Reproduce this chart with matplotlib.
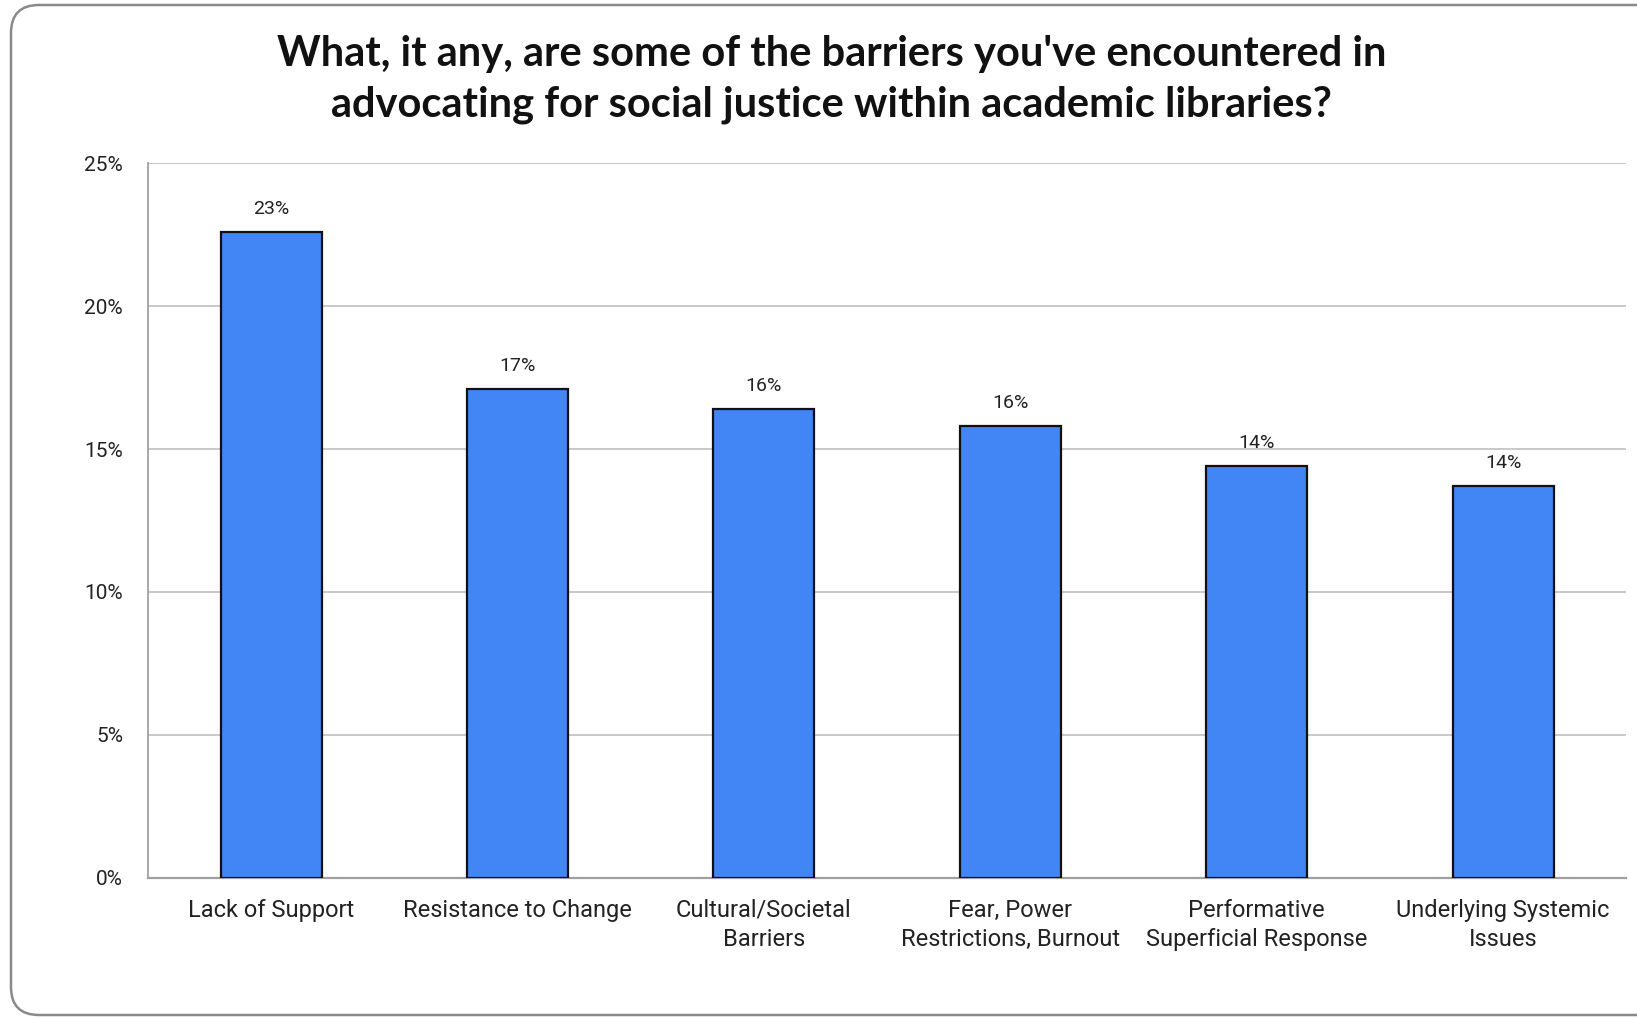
import matplotlib
matplotlib.use("Agg")
import matplotlib.pyplot as plt
from matplotlib.patches import FancyBboxPatch

# --- chart data ---
categories = [
    "Lack of Support",
    "Resistance to Change",
    "Cultural/Societal\nBarriers",
    "Fear, Power\nRestrictions, Burnout",
    "Performative\nSuperficial Response",
    "Underlying Systemic\nIssues",
]
shares = [22.6, 17.1, 16.4, 15.8, 14.4, 13.7]
share_labels = ["23%", "17%", "16%", "16%", "14%", "14%"]
yticks = [0, 5, 10, 15, 20, 25]
ytick_labels = ["0%", "5%", "10%", "15%", "20%", "25%"]

title = ("What, it any, are some of the barriers you've encountered in\n"
         "advocating for social justice within academic libraries?")

fig = plt.figure(figsize=(16.37, 10.19), dpi=100)
ax = fig.add_axes([0.0904, 0.1384, 0.903, 0.7016])

x = list(range(len(categories)))
bars = ax.bar(x, shares, width=0.41, color="#4285f4",
              edgecolor="#111111", linewidth=1.6, zorder=3)

for b, lab in zip(bars, share_labels):
    ax.annotate(lab, (b.get_x() + b.get_width() / 2, b.get_height()),
                xytext=(0, 16.5), textcoords="offset points",
                ha="center", va="center", fontsize=14,
                family="Roboto", color="#222222")

ax.set_xlim(-0.5, len(categories) - 0.5)
ax.set_ylim(0, 25)
ax.set_yticks(yticks)
ax.set_yticklabels(ytick_labels, family="Roboto", fontsize=15, color="#222222")
ax.set_xticks(x)
ax.set_xticklabels(categories, family="Roboto", fontsize=17,
                   color="#222222", linespacing=1.35)
ax.tick_params(axis="y", length=0, pad=18)
ax.tick_params(axis="x", length=0, pad=15)

ax.grid(axis="y", color="#c4c4c4", linewidth=1.3, zorder=0)
for side in ["top", "right"]:
    ax.spines[side].set_visible(False)
ax.spines["left"].set_color("#a0a0a0")
ax.spines["bottom"].set_color("#a0a0a0")
ax.spines["left"].set_linewidth(1.3)
ax.spines["bottom"].set_linewidth(1.6)

fig.text(0.508, 0.922, title, ha="center", va="center", fontsize=30,
         fontweight="bold", family="Lato", color="#111111", linespacing=1.42)

# rounded frame around the card (runs off the right edge)
frame = FancyBboxPatch((11, 4), 1700, 1010,
                       boxstyle="round,pad=0,rounding_size=28",
                       transform=None, fill=False,
                       edgecolor="#8a8a8a", linewidth=1.8)
fig.patches.append(frame)

fig.savefig("out.png", dpi=100)
